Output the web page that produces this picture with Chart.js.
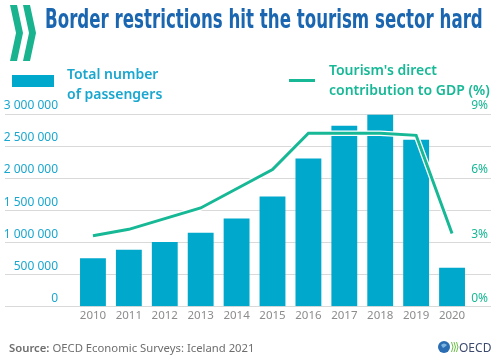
<!DOCTYPE html>
<html>
<head>
<meta charset="utf-8">
<script src="https://cdn.jsdelivr.net/npm/chart.js@4"></script>
<style>
  body { margin: 0; background: #fff; }
  #wrap { position: relative; width: 500px; height: 361px; overflow: hidden; font-family: "Noto Sans", "Open Sans", sans-serif; }
  #chart { position: absolute; left: 0; top: 0; }
  .abs { position: absolute; white-space: nowrap; }
  #title { left: 45px; top: 4px; font-family: "Liberation Sans Narrow", "DejaVu Sans Condensed", sans-serif; font-weight: bold; font-size: 26px; color: #1b66b0; transform-origin: 0 0; }
  .leg { font-size: 14px; font-weight: 600; line-height: 20px; }
  #source { left: 9px; top: 340px; font-size: 11.3px; color: #6e6e6e; }
  #source b { font-weight: 600; }
</style>
</head>
<body>
<div id="wrap">
  <canvas id="chart" width="500" height="361"></canvas>
  <svg class="abs" style="left:0;top:0" width="40" height="66">
    <polygon points="10,5 17,5 23,33 17,61 10,61 16,33" fill="#19b38f"/>
    <polygon points="23,5 30,5 36,33 30,61 23,61 29,33" fill="#19b38f"/>
  </svg>
  <div id="title" class="abs">Border restrictions hit the tourism sector hard</div>
  <div class="abs" style="left:12px;top:75px;width:42px;height:12px;background:#00a8cc"></div>
  <div class="abs leg" style="left:67px;top:64px;color:#1aa7cf">Total number<br>of passengers</div>
  <div class="abs" style="left:289px;top:79px;width:26px;height:3px;background:#17b896"></div>
  <div class="abs leg" style="left:329px;top:60px;color:#17b896">Tourism's direct<br>contribution to GDP (%)</div>
  <div id="source" class="abs"><b>Source:</b> OECD Economic Surveys: Iceland 2021</div>
  <svg class="abs" style="left:436px;top:339px" width="62" height="16">
    <circle cx="8" cy="8" r="6" fill="#2a6db3"/>
    <path d="M5 6 q3 -3 6 0 q-2 2 -4 3 z" fill="#7fb6e0"/>
    <path d="M15.5 3 q3 5 0 10 M18 3 q3 5 0 10 M20.5 3 q3 5 0 10" stroke="#6cbf4a" stroke-width="1" fill="none"/>
    <text x="23" y="13" font-family="Noto Sans, sans-serif" font-size="12" fill="#3c4a6e">OECD</text>
  </svg>
</div>
<script>
var years = ['2010', '2011', '2012', '2013', '2014', '2015', '2016', '2017', '2018', '2019', '2020'];
var passengers = [747000, 883000, 1001000, 1147000, 1370000, 1712000, 2304000, 2818000, 2989000, 2600000, 602000];
var gdpShare = [3.3, 3.6, 4.1, 4.6, 5.5, 6.4, 8.1, 8.1, 8.1, 8.0, 3.4];

var leftTicks = [0, 500000, 1000000, 1500000, 2000000, 2500000, 3000000];
var leftLabels = ['0', '500 000', '1 000 000', '1 500 000', '2 000 000', '2 500 000', '3 000 000'];
var rightTicks = [0, 3, 6, 9];
var rightLabels = ['0%', '3%', '6%', '9%'];

// fit the title to its width
var t = document.getElementById('title');
t.style.transform = 'scaleX(' + (438 / t.offsetWidth) + ')';

// gridlines spanning the whole width, labels sitting above them
var gridPlugin = {
  id: 'fullGrid',
  beforeDatasetsDraw: function(chart) {
    var ctx = chart.ctx;
    var y = chart.scales.y, y1 = chart.scales.y1;
    ctx.save();
    ctx.strokeStyle = '#d9d9d9';
    ctx.lineWidth = 1;
    leftTicks.forEach(function(v) {
      var py = Math.round(y.getPixelForValue(v)) + 0.5;
      ctx.beginPath();
      ctx.moveTo(5, py);
      ctx.lineTo(491, py);
      ctx.stroke();
    });
    ctx.font = '12px "Noto Sans"';
    ctx.textAlign = 'right';
    ctx.textBaseline = 'middle';
    ctx.fillStyle = '#1aa7cf';
    leftTicks.forEach(function(v, i) {
      ctx.fillText(leftLabels[i], 58, y.getPixelForValue(v) - 8);
    });
    ctx.fillStyle = '#17b896';
    rightTicks.forEach(function(v, i) {
      ctx.fillText(rightLabels[i], 488, y1.getPixelForValue(v) - 8);
    });
    ctx.restore();
  }
};

var ctx = document.getElementById('chart').getContext('2d');
var chart = new Chart(ctx, {
  type: 'bar',
  data: {
    labels: years,
    datasets: [{
      type: 'line',
      data: gdpShare,
      yAxisID: 'y1',
      borderColor: '#17b896',
      borderWidth: 3,
      pointRadius: 0,
      tension: 0,
      order: 0
    }, {
      type: 'line',
      data: gdpShare,
      yAxisID: 'y1',
      borderColor: '#ffffff',
      borderWidth: 5.5,
      pointRadius: 0,
      tension: 0,
      order: 1
    }, {
      data: passengers,
      yAxisID: 'y',
      backgroundColor: '#00a8cc',
      barPercentage: 0.72,
      categoryPercentage: 1,
      order: 2
    }]
  },
  options: {
    responsive: false,
    animation: false,
    layout: { padding: { left: 75, right: 30, top: 114, bottom: 35 } },
    plugins: { legend: { display: false }, tooltip: { enabled: false } },
    scales: {
      x: {
        grid: { display: false, drawTicks: false },
        border: { display: false },
        ticks: { color: '#8c8c8c', font: { family: 'Noto Sans', size: 11.5 }, padding: 3 }
      },
      y: { display: false, min: 0, max: 3000000 },
      y1: { display: false, position: 'right', min: 0, max: 9 }
    }
  },
  plugins: [gridPlugin]
});
</script>
</body>
</html>
